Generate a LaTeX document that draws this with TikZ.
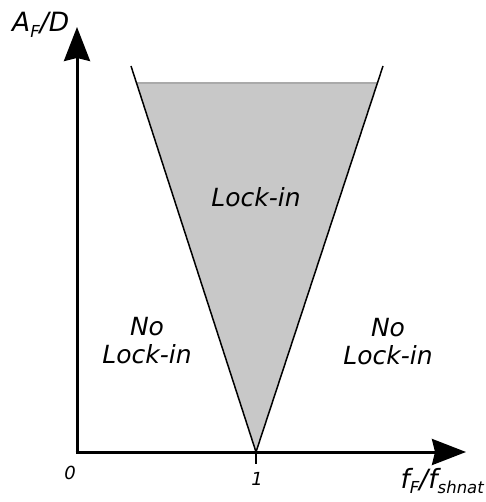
\documentclass[tikz,border=0pt]{standalone}
\usepackage{fontspec}
\setmainfont{DejaVu Sans}
\usetikzlibrary{arrows.meta}
\newcommand{\lbsub}[1]{\raisebox{-0.35ex}{\fontsize{16.5}{16.5}\selectfont #1}}
\begin{document}
\begin{tikzpicture}[x=1pt,y=-1pt,
  axis/.style={line width=3pt,-{Stealth[length=34pt,width=26pt,inset=3pt]}},
  edge/.style={line width=1.5pt},
  lbl/.style={font=\fontsize{25}{28}\selectfont\itshape,inner sep=0pt,align=center},
  axlbl/.style={font=\fontsize{26.5}{28}\selectfont\itshape,inner sep=0pt},
  num/.style={font=\fontsize{18}{20}\selectfont\itshape,inner sep=0pt}]
\useasboundingbox (0,0) rectangle (485,502);
\coordinate (O) at (77,452);
\coordinate (Ytip) at (77,27);
\coordinate (Xtip) at (466,452);
\coordinate (A) at (256,452);
\coordinate (L) at (131,66);
\coordinate (R) at (383,66);
\coordinate (FL) at (136.5,83);
\coordinate (FR) at (377.4,83);
\coordinate (T1) at (256,464);
% shaded region
\fill[fill={rgb,255:red,200;green,200;blue,200}] (FL) -- (FR) -- (A) -- cycle;
\draw[line width=1.2pt,draw={rgb,255:red,170;green,170;blue,170}] (FL) -- (FR);
% edges
\draw[edge] (L) -- (A) -- (R);
% axes
\draw[axis] (O) -- (Ytip);
\draw[axis] ([xshift=-1.5pt]O) -- (Xtip);
\draw[line width=1.5pt] (A) -- (T1);
% labels
\node[axlbl,anchor=base west] (ylab) at (12,32) {A\lbsub{F}/D};
\node[lbl] (lock) at (256,197) {Lock-in};
\node[lbl] (nol) at (147,341) {No\\Lock-in};
\node[lbl] (nor) at (388,342) {No\\Lock-in};
\node[num] (z) at (70,473) {0};
\node[num] (one) at (257,479) {1};
\node[axlbl,anchor=base east] (xlab) at (484,488) {f\lbsub{F}/f\lbsub{shnat}};
\end{tikzpicture}
\end{document}
